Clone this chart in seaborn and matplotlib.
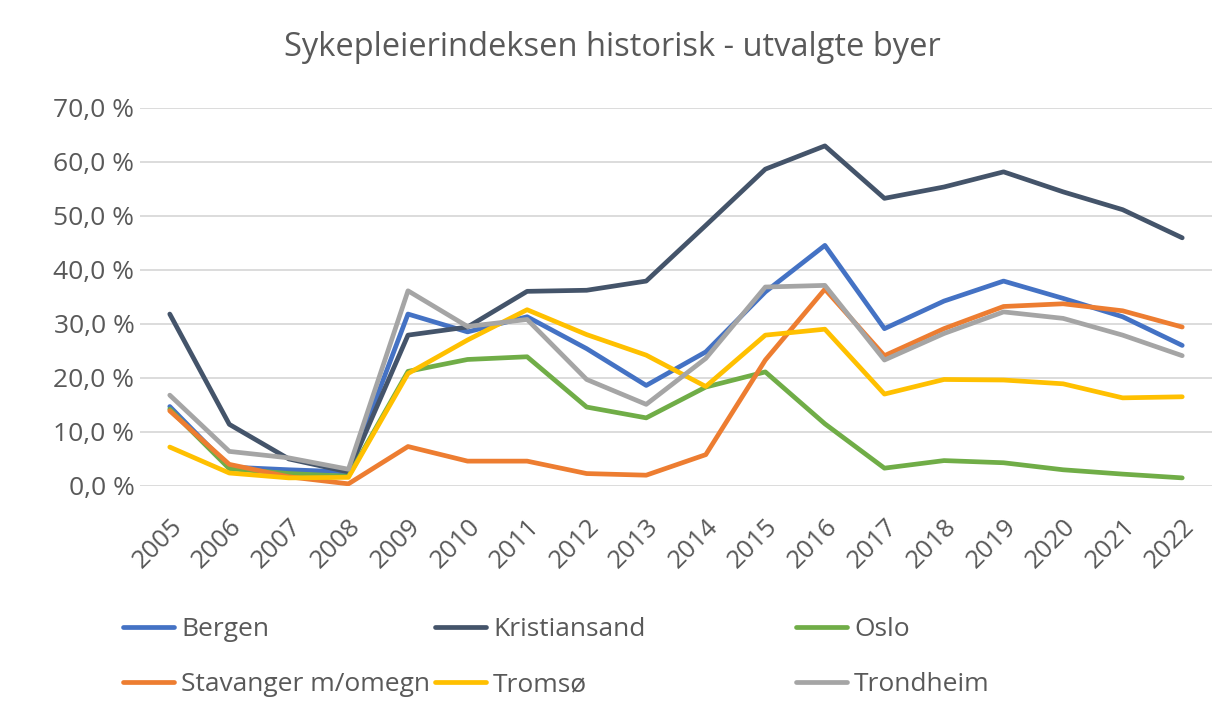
import matplotlib
matplotlib.use("Agg")
import matplotlib.pyplot as plt
import seaborn as sns
import pandas as pd
from matplotlib.ticker import FuncFormatter

years = list(range(2005, 2023))
bergen = [14.7, 3.5, 3.0, 2.6, 31.8, 28.5, 31.3, 25.4, 18.6, 24.8, 35.9, 44.5, 29.1, 34.2, 37.9, 34.7, 31.3, 26.0]
kristiansand = [31.8, 11.4, 5.0, 2.6, 27.9, 29.4, 36.0, 36.2, 37.9, 48.2, 58.6, 62.9, 53.2, 55.3, 58.1, 54.4, 51.1, 45.9]
oslo = [14.2, 3.2, 2.3, 1.8, 21.2, 23.4, 23.9, 14.6, 12.6, 18.3, 21.1, 11.5, 3.3, 4.7, 4.3, 3.0, 2.2, 1.5]
stavanger = [13.9, 4.0, 1.7, 0.4, 7.3, 4.6, 4.6, 2.3, 2.0, 5.8, 23.3, 36.4, 24.1, 29.1, 33.2, 33.7, 32.4, 29.4]
tromso = [7.2, 2.4, 1.5, 1.6, 20.8, 27.0, 32.6, 28.0, 24.2, 18.4, 27.9, 29.0, 17.0, 19.7, 19.6, 18.9, 16.3, 16.5]
trondheim = [16.8, 6.4, 5.2, 3.1, 36.1, 29.5, 30.8, 19.7, 15.1, 23.6, 36.8, 37.1, 23.3, 28.2, 32.2, 31.0, 27.9, 24.1]

cities = ["Bergen", "Kristiansand", "Oslo", "Stavanger m/omegn", "Tromsø", "Trondheim"]
series = [bergen, kristiansand, oslo, stavanger, tromso, trondheim]
colors = ["#4472C4", "#44546A", "#70AD47", "#ED7D31", "#FFC000", "#A5A5A5"]
title = "Sykepleierindeksen historisk - utvalgte byer"

df = pd.DataFrame(
    [(y, c, v) for c, s in zip(cities, series) for y, v in zip(years, s)],
    columns=["year", "city", "value"],
)

sns.set_theme(style="white")
plt.rcParams["font.family"] = ["Open Sans", "DejaVu Sans"]
text_color = "#595959"

fig = plt.figure(figsize=(12.25, 7.13), dpi=100)
ax = fig.add_axes([140 / 1225, 1 - 486 / 713, (1212 - 140) / 1225, (486 - 107.5) / 713])

sns.lineplot(data=df, x="year", y="value", hue="city", hue_order=cities,
             palette=colors, linewidth=3.4, ax=ax, legend=False)

ax.set_xlim(years[0] - 0.5, years[-1] + 0.5)
ax.set_ylim(0, 70)
ax.set_yticks(range(0, 71, 10))
ax.yaxis.set_major_formatter(FuncFormatter(lambda v, p: f"{v:.1f}".replace(".", ",") + " %"))
ax.set_xticks(years)
ax.set_xticklabels([str(y) for y in years], rotation=45, ha="right", rotation_mode="anchor")
ax.grid(axis="y", color="#D9D9D9", linewidth=1.3)
ax.set_axisbelow(True)
for s in ax.spines.values():
    s.set_visible(False)
ax.tick_params(axis="both", colors=text_color, length=0)
ax.tick_params(axis="y", pad=4, labelsize=19)
ax.tick_params(axis="x", pad=20, labelsize=18.5)
ax.set_xlabel("")
ax.set_ylabel("")

fig.text(0.5, 1 - 47 / 713, title, ha="center", va="center", fontsize=23.5, color=text_color)

handles = {c: plt.Line2D([], [], color=col, linewidth=3.4) for c, col in zip(cities, colors)}
cols = [(["Bergen", "Stavanger m/omegn"], 123), (["Kristiansand", "Tromsø"], 435), (["Oslo", "Trondheim"], 796)]
for names, xpx in cols:
    leg = fig.legend([handles[n] for n in names], names, loc="upper left",
                     bbox_to_anchor=(xpx / 1225, 1 - 617 / 713), frameon=False,
                     fontsize=19, handlelength=1.95, handletextpad=0.25,
                     labelspacing=1.15, borderpad=0, borderaxespad=0)
    for t in leg.get_texts():
        t.set_color(text_color)

fig.savefig("out.png", dpi=100, facecolor="white")
